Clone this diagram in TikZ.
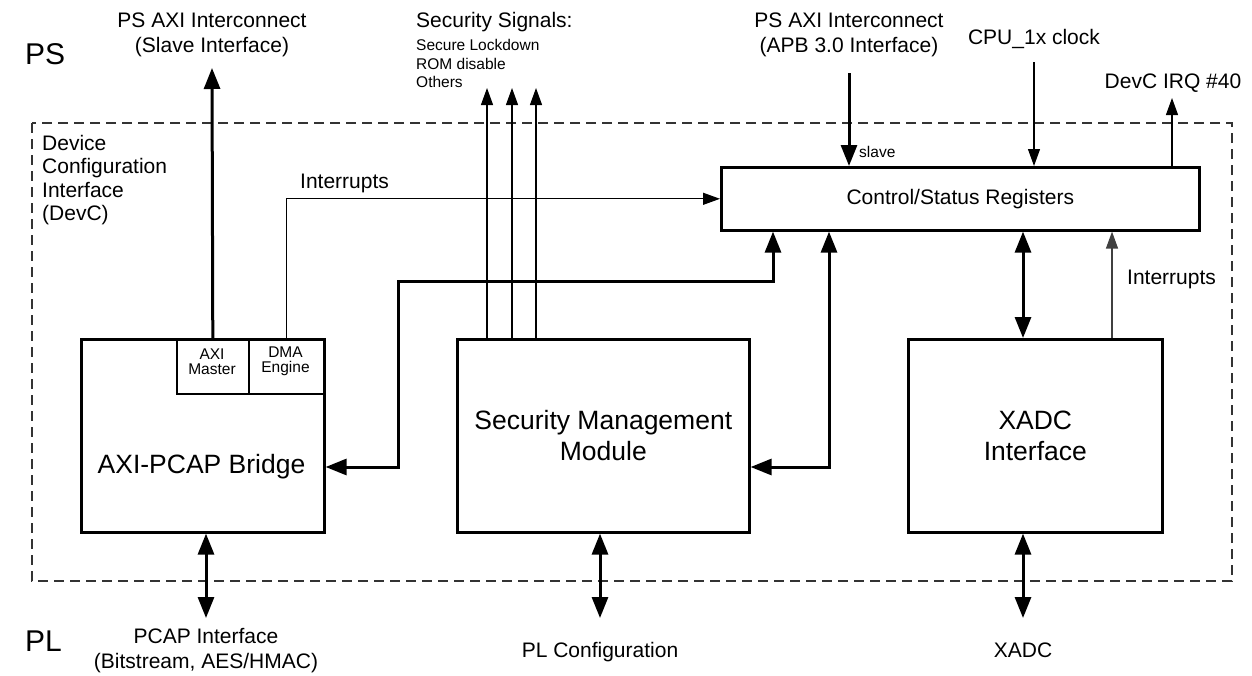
\documentclass[tikz,border=0pt]{standalone}
\usepackage{fontspec}
\setmainfont{Liberation Sans}
\usetikzlibrary{arrows.meta,calc}
\newcommand\FMain{\fontsize{21}{25}\selectfont}
\newcommand\FSmall{\fontsize{15.5}{18.7}\selectfont}
\newcommand\FBig{\fontsize{26.5}{31}\selectfont}
\newcommand\FHuge{\fontsize{30}{34}\selectfont}
\tikzset{
  blockbox/.style={draw,line width=2.6pt,inner sep=0pt,anchor=north west,fill=white},
  subbox/.style={draw,line width=1.6pt,inner sep=0pt,anchor=north west},
  txt/.style={inner sep=0pt,font=\FMain,align=center},
  thinarrow/.style={line width=1.2pt,-{Triangle[length=17pt,width=12pt]}},
  thickarrow/.style={line width=3pt,-{Triangle[length=21pt,width=16pt]}},
  dblarrow/.style={line width=3pt,{Triangle[length=21pt,width=16pt]}-{Triangle[length=21pt,width=16pt]}},
  frame/.style={draw=black!80,line width=1.3pt,dash pattern=on 10pt off 6pt}
}
\begin{document}
\begin{tikzpicture}[x=1pt,y=-1pt]
\useasboundingbox (0,0) rectangle (1252,675);
% dashed DevC frame
\draw[frame] (32,123) rectangle (1232,581);

% blocks
\node[blockbox,minimum width=478pt,minimum height=63pt,font=\FMain] (csr) at (720,166) {Control/Status Registers};
\node[blockbox,minimum width=243pt,minimum height=193pt] (pcap) at (80,338) {};
\node[subbox,minimum width=72pt,minimum height=55pt] (axim) at (176,338) {};
\node[subbox,minimum width=75pt,minimum height=55pt] (dma) at (248,338) {};
\node[txt,font=\fontsize{15.5}{15}\selectfont] (aximlbl) at (212,361.5) {AXI\\Master};
\node[txt,font=\fontsize{15.5}{15}\selectfont] (dmalbl) at (285.5,361.5) {DMA\\Engine};
\node[txt,font=\FBig] (pcaplbl) at (201.5,467) {AXI-PCAP Bridge};
\node[blockbox,minimum width=292pt,minimum height=193pt,font=\FBig,align=center] (smm) at (456,338) {Security Management\\Module};
\node[blockbox,minimum width=254pt,minimum height=193pt,font=\FBig,align=center] (xadc) at (907,338) {XADC\\Interface};

% texts
\node[txt,font=\FHuge,anchor=west] (ps) at (25,54) {PS};
\node[txt,font=\FHuge,anchor=west] (pl) at (25,641) {PL};
\node[txt] (axilbl) at (212,34.5) {PS AXI Interconnect\\(Slave Interface)};
\node[txt,anchor=west] (seclbl) at (416,22) {Security Signals:};
\node[txt,font=\FSmall,align=left,anchor=west] (seclist) at (416,63.5) {Secure Lockdown\\ROM disable\\Others};
\node[txt] (apblbl) at (849,34.5) {PS AXI Interconnect\\(APB 3.0 Interface)};
\node[txt] (clklbl) at (1034,39) {CPU\_1x clock};
\node[txt] (irqlbl) at (1173,83) {DevC IRQ \#40};
\node[txt,align=left,anchor=west,font=\fontsize{21}{23.4}\selectfont] (devc) at (42,180) {Device\\Configuration\\Interface\\(DevC)};
\node[txt,anchor=west] (intlbl) at (300,183) {Interrupts};
\node[txt,anchor=west] (intlbl2) at (1127,279) {Interrupts};
\node[txt,font=\FSmall,anchor=west] (slavelbl) at (859,152) {slave};
\node[txt] (pcapif) at (206,650.5) {PCAP Interface\\(Bitstream, AES/HMAC)};
\node[txt] (plcfg) at (600,652) {PL Configuration};
\node[txt] (xadcpl) at (1023,650) {XADC};

% free ends
\coordinate (axiout) at (212,68);
\coordinate (sigA) at (487,88);
\coordinate (sigB) at (512,88);
\coordinate (sigC) at (536,88);
\coordinate (apbin) at (849,73);
\coordinate (clkin) at (1034,62);
\coordinate (irqout) at (1172,98);
\coordinate (pcapout) at (206,618);
\coordinate (plout) at (600,618);
\coordinate (xadcout) at (1023,618);

% connectors
\draw[thickarrow] (axim.north) -- (axiout);
\draw[thinarrow] (dma.north) |- (csr.west);
\draw[thinarrow] (sigA |- smm.north) -- (sigA);
\draw[thinarrow] (sigB |- smm.north) -- (sigB);
\draw[thinarrow] (sigC |- smm.north) -- (sigC);
\draw[dblarrow] (773,0 |- csr.south) -- (773,281) -- (398,281) -- (398,467) -- (pcap.east |- 0,467);
\draw[dblarrow] (829,0 |- csr.south) -- (829,467) -- (smm.east |- 0,467);
\draw[dblarrow] (1023,0 |- csr.south) -- (1023,0 |- xadc.north);
\draw[thinarrow,draw=black!75,line width=1.3pt] (1112,0 |- xadc.north) -- (1112,0 |- csr.south);
\draw[thickarrow] (apbin) -- (apbin |- csr.north);
\draw[thinarrow] (clkin) -- (clkin |- csr.north);
\draw[thinarrow] (irqout |- csr.north) -- (irqout);
\draw[dblarrow] (pcapout |- pcap.south) -- (pcapout);
\draw[dblarrow] (plout |- smm.south) -- (plout);
\draw[dblarrow] (xadcout |- xadc.south) -- (xadcout);
\end{tikzpicture}
\end{document}
